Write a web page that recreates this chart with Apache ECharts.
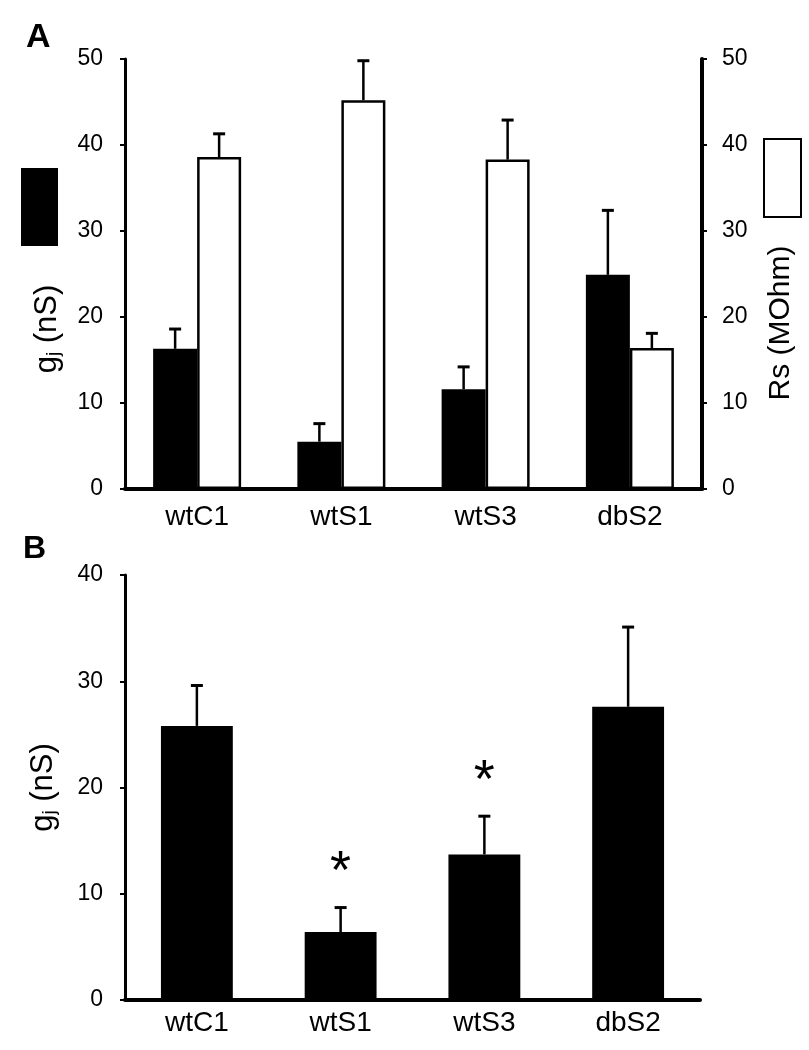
<!DOCTYPE html>
<html>
<head>
<meta charset="utf-8">
<script src="https://cdn.jsdelivr.net/npm/echarts@6/dist/echarts.min.js"></script>
<style>
html,body{margin:0;padding:0;background:#fff;}
#chart{width:809px;height:1050px;}
</style>
</head>
<body>
<div id="chart"></div>
<script>
// ---- data ----
var categories = ['wtC1', 'wtS1', 'wtS3', 'dbS2'];
var gjA = [16.3, 5.5, 11.6, 24.9];
var gjAErr = [2.3, 2.1, 2.6, 7.5];
var rsA = [38.6, 45.2, 38.3, 16.4];
var rsAErr = [2.7, 4.6, 4.6, 1.7];
var gjB = [25.8, 6.4, 13.7, 27.6];
var gjBErr = [3.8, 2.3, 3.6, 7.5];
var sigB = [false, true, true, false];
var ticksA = [0, 10, 20, 30, 40, 50];
var ticksB = [0, 10, 20, 30, 40];

var FONT = 'Liberation Sans';
var chart = echarts.init(document.getElementById('chart'), null, {renderer: 'canvas'});

function errBar(offsetFrac, withSig) {
  return function (params, api) {
    var i = api.value(0), mean = api.value(1), err = api.value(2);
    var band = api.size([1, 0])[0];
    var base = api.coord([i, mean]);
    var top = api.coord([i, mean + err]);
    var x = base[0] + offsetFrac * band;
    var cap = 6;
    var children = [
      {type: 'line', shape: {x1: x, y1: base[1], x2: x, y2: top[1]}, style: {stroke: '#000', lineWidth: 2.5}},
      {type: 'line', shape: {x1: x - cap, y1: top[1], x2: x + cap, y2: top[1]}, style: {stroke: '#000', lineWidth: 3}}
    ];
    if (withSig && sigB[i]) {
      children.push({type: 'text', style: {text: '*', x: x, y: top[1] - 34, align: 'center', verticalAlign: 'middle', font: '54px ' + FONT, fill: '#000'}});
    }
    return {type: 'group', children: children};
  };
}

var axisLabelStyle = {color: '#000', fontSize: 23, fontFamily: FONT};
var nameRich = {
  sub: {fontSize: 19, fontFamily: FONT, color: '#000', verticalAlign: 'top', padding: [13, 0, 0, 0]}
};

var option = {
  animation: false,
  backgroundColor: '#fff',
  textStyle: {fontFamily: FONT, color: '#000'},
  title: [
    {text: 'A', left: 21, top: 16, textStyle: {fontSize: 34, fontWeight: 'bold', color: '#000', fontFamily: FONT}},
    {text: 'B', left: 18, top: 528, textStyle: {fontSize: 32, fontWeight: 'bold', color: '#000', fontFamily: FONT}}
  ],
  legend: [
    {data: ['gj A'], left: 21, top: 168, padding: 0, itemWidth: 37, itemHeight: 78, selectedMode: false, icon: 'rect', formatter: function () { return ''; }},
    {data: ['Rs A'], left: 763, top: 138, padding: 0, itemWidth: 37, itemHeight: 78, selectedMode: false, icon: 'rect', formatter: function () { return ''; },
     itemStyle: {color: '#fff', borderColor: '#000', borderWidth: 2}}
  ],
  grid: [
    {left: 125, right: 107, top: 59, height: 430},
    {left: 125, right: 109, top: 575, height: 425}
  ],
  xAxis: [
    {type: 'category', gridIndex: 0, data: categories,
     axisLine: {lineStyle: {color: '#000', width: 4}},
     axisTick: {alignWithLabel: true, length: 5, lineStyle: {color: '#000', width: 2}},
     axisLabel: {color: '#000', fontSize: 28, fontFamily: FONT, margin: 14}},
    {type: 'category', gridIndex: 1, data: categories,
     axisLine: {lineStyle: {color: '#000', width: 4}},
     axisTick: {alignWithLabel: true, length: 5, lineStyle: {color: '#000', width: 2}},
     axisLabel: {color: '#000', fontSize: 28, fontFamily: FONT, margin: 9}}
  ],
  yAxis: [
    {type: 'value', gridIndex: 0, position: 'left', min: ticksA[0], max: ticksA[ticksA.length - 1], interval: ticksA[1] - ticksA[0],
     axisLine: {show: true, lineStyle: {color: '#000', width: 3}},
     axisTick: {show: true, length: 5, lineStyle: {color: '#000', width: 2}},
     splitLine: {show: false},
     axisLabel: Object.assign({margin: 22}, axisLabelStyle),
     name: 'g{sub|j} (nS)', nameLocation: 'middle', nameRotate: 90, nameGap: 62,
     nameTextStyle: {fontSize: 31, color: '#000', fontFamily: FONT, rich: nameRich, padding: [0, 110, 0, 0]}},
    {type: 'value', gridIndex: 0, position: 'right', min: ticksA[0], max: ticksA[ticksA.length - 1], interval: ticksA[1] - ticksA[0],
     axisLine: {show: true, lineStyle: {color: '#000', width: 4}},
     axisTick: {show: true, length: 5, lineStyle: {color: '#000', width: 2}},
     splitLine: {show: false},
     axisLabel: Object.assign({margin: 20}, axisLabelStyle),
     name: 'Rs (MOhm)', nameLocation: 'middle', nameRotate: 90, nameGap: 64,
     nameTextStyle: {fontSize: 30, color: '#000', fontFamily: FONT, padding: [0, 98, 0, 0]}},
    {type: 'value', gridIndex: 1, position: 'left', min: ticksB[0], max: ticksB[ticksB.length - 1], interval: ticksB[1] - ticksB[0],
     axisLine: {show: true, lineStyle: {color: '#000', width: 3}},
     axisTick: {show: true, length: 5, lineStyle: {color: '#000', width: 2}},
     splitLine: {show: false},
     axisLabel: Object.assign({margin: 22}, axisLabelStyle),
     name: 'g{sub|j} (nS)', nameLocation: 'middle', nameRotate: 90, nameGap: 66,
     nameTextStyle: {fontSize: 31, color: '#000', fontFamily: FONT, rich: nameRich}}
  ],
  series: [
    {name: 'gj A', type: 'bar', xAxisIndex: 0, yAxisIndex: 0, data: gjA, barGap: '0%', barCategoryGap: '39%',
     itemStyle: {color: '#000', borderColor: '#000', borderWidth: 0}},
    {name: 'Rs A', type: 'bar', xAxisIndex: 0, yAxisIndex: 1, data: rsA, barGap: '0%', barCategoryGap: '39%',
     itemStyle: {color: '#fff', borderColor: '#000', borderWidth: 2.5}},
    {name: 'gj A err', type: 'custom', xAxisIndex: 0, yAxisIndex: 0, z: 5,
     data: gjA.map(function (v, i) { return [i, v, gjAErr[i]]; }), renderItem: errBar(-0.1525, false)},
    {name: 'Rs A err', type: 'custom', xAxisIndex: 0, yAxisIndex: 1, z: 5,
     data: rsA.map(function (v, i) { return [i, v, rsAErr[i]]; }), renderItem: errBar(0.1525, false)},
    {name: 'gj B', type: 'bar', xAxisIndex: 1, yAxisIndex: 2, data: gjB, barCategoryGap: '50%',
     itemStyle: {color: '#000'}},
    {name: 'gj B err', type: 'custom', xAxisIndex: 1, yAxisIndex: 2, z: 5,
     data: gjB.map(function (v, i) { return [i, v, gjBErr[i]]; }), renderItem: errBar(0, true)}
  ]
};
chart.setOption(option);
</script>
</body>
</html>
